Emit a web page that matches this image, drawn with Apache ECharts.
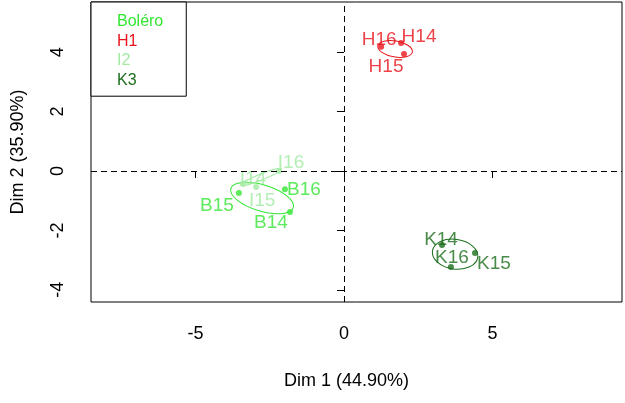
<!DOCTYPE html>
<html>
<head>
<meta charset="utf-8">
<script src="https://cdn.jsdelivr.net/npm/echarts@6/dist/echarts.min.js"></script>
<style>
  html, body { margin: 0; padding: 0; background: #fff; }
  #pca-chart { width: 625px; height: 403px; }
</style>
</head>
<body>
<div id="pca-chart"></div>
<script>
// groups (legend order)
const groupNames = ['Boléro', 'H1', 'I2', 'K3']

// individuals per group, coordinates on Dim 1 / Dim 2
const boleroNames = ['B14', 'B15', 'B16']
const boleroDim1 = [-1.82, -3.54, -1.99]
const boleroDim2 = [-1.38, -0.74, -0.61]

const h1Names = ['H14', 'H15', 'H16']
const h1Dim1 = [1.92, 2.02, 1.25]
const h1Dim2 = [4.31, 3.94, 4.18]

const i2Names = ['I14', 'I15', 'I16']
const i2Dim1 = [-3.40, -2.96, -2.19]
const i2Dim2 = [-0.44, -0.54, 0.00]

const k3Names = ['K14', 'K15', 'K16']
const k3Dim1 = [3.30, 4.41, 3.60]
const k3Dim2 = [-2.49, -2.76, -3.23]

// confidence ellipses, one per group (centre, semi axes, tilt in degrees)
const ellipseCenterX = [-2.76, 1.72, -2.79, 3.74]
const ellipseCenterY = [-0.91, 4.11, -0.20, -2.80]
const ellipseSemiMajor = [1.10, 0.59, 0.74, 0.77]
const ellipseSemiMinor = [0.44, 0.27, 0.10, 0.50]
const ellipseAngle = [-17, -10, 22, -8]

// axis ticks
const xTicks = [-5, 0, 5]
const yTicks = [-4, -2, 0, 2, 4]

// styling
const groupColors = ['#33e633', '#e8141b', '#a3eaa3', '#1c6e1c']
const fontFamily = '"Liberation Sans", Arial, sans-serif'
// label nudges (pixels from the point) so the texts sit like in the R plot
const labelNudge = {
  B14: [-19, 11], B15: [-22, 13], B16: [19, 1],
  H14: [18, -6], H15: [-18, 13], H16: [-2, -7],
  I14: [10, -5], I15: [6, 14], I16: [12, -8],
  K14: [-1, -5], K15: [19, 11], K16: [1, -9]
}

const groupPoints = [
  [boleroNames, boleroDim1, boleroDim2],
  [h1Names, h1Dim1, h1Dim2],
  [i2Names, i2Dim1, i2Dim2],
  [k3Names, k3Dim1, k3Dim2]
]

const chart = echarts.init(document.getElementById('pca-chart'))

const series = []
groupNames.forEach((group, g) => {
  const [names, d1, d2] = groupPoints[g]
  // ellipse
  series.push({
    name: group,
    type: 'custom',
    silent: true,
    clip: false,
    z: 1,
    encode: { x: 0, y: 1 },
    data: [[ellipseCenterX[g], ellipseCenterY[g], ellipseSemiMajor[g], ellipseSemiMinor[g], ellipseAngle[g]]],
    renderItem: (params, api) => {
      const c = api.coord([api.value(0), api.value(1)])
      const s = api.size([api.value(2), api.value(3)])
      return {
        type: 'ellipse',
        x: c[0],
        y: c[1],
        rotation: api.value(4) * Math.PI / 180,
        shape: { cx: 0, cy: 0, rx: s[0], ry: s[1] },
        style: { fill: null, stroke: groupColors[g], lineWidth: 1 }
      }
    }
  })
  // individuals
  series.push({
    name: group,
    type: 'scatter',
    symbol: 'circle',
    symbolSize: 6,
    z: 3,
    itemStyle: { color: groupColors[g] },
    label: {
      show: true,
      position: 'inside',
      formatter: '{b}',
      color: groupColors[g],
      fontSize: 19,
      fontFamily: fontFamily
    },
    data: names.map((n, i) => ({
      name: n,
      value: [d1[i], d2[i]],
      label: { offset: labelNudge[n] }
    })),
    markLine: g === 0 ? {
      silent: true,
      symbol: 'none',
      label: { show: false },
      lineStyle: { color: '#000', width: 1, type: [6, 4] },
      data: [{ xAxis: 0 }, { yAxis: 0 }]
    } : undefined
  })
})

chart.setOption({
  animation: false,
  backgroundColor: '#fff',
  textStyle: { fontFamily: fontFamily },
  grid: {
    left: 91,
    right: 3,
    top: 2,
    bottom: 101,
    show: true,
    borderColor: '#000',
    borderWidth: 1,
    backgroundColor: 'transparent'
  },
  legend: {
    orient: 'vertical',
    left: 91,
    top: 2,
    selectedMode: false,
    itemWidth: 0,
    itemHeight: 0,
    itemGap: 3.4,
    padding: [12, 23, 8, 21],
    borderColor: '#000',
    borderWidth: 1,
    backgroundColor: '#fff',
    textStyle: { fontSize: 16, fontFamily: fontFamily },
    data: groupNames.map((n, i) => ({ name: n, textStyle: { color: groupColors[i] } }))
  },
  xAxis: {
    type: 'value',
    min: -8.52,
    max: 9.36,
    name: 'Dim 1 (44.90%)',
    nameLocation: 'middle',
    nameGap: 70,
    nameTextStyle: { fontSize: 18, color: '#000', fontFamily: fontFamily, padding: [0, 20, 0, 0] },
    axisLine: { show: false },
    splitLine: { show: false },
    axisTick: { show: true, length: 7, customValues: xTicks, lineStyle: { color: '#000' } },
    axisLabel: { customValues: xTicks, fontSize: 18, color: '#000', margin: 23, fontFamily: fontFamily }
  },
  yAxis: {
    type: 'value',
    min: -4.41,
    max: 5.69,
    name: 'Dim 2 (35.90%)',
    nameLocation: 'middle',
    nameRotate: 90,
    nameGap: 64,
    nameTextStyle: { fontSize: 18, color: '#000', fontFamily: fontFamily },
    axisLine: { show: false },
    splitLine: { show: false },
    axisTick: { show: true, length: 7, customValues: yTicks, lineStyle: { color: '#000' } },
    axisLabel: { customValues: yTicks, rotate: 90, fontSize: 18, color: '#000', margin: 24, fontFamily: fontFamily }
  },
  series: series
})
</script>
</body>
</html>
